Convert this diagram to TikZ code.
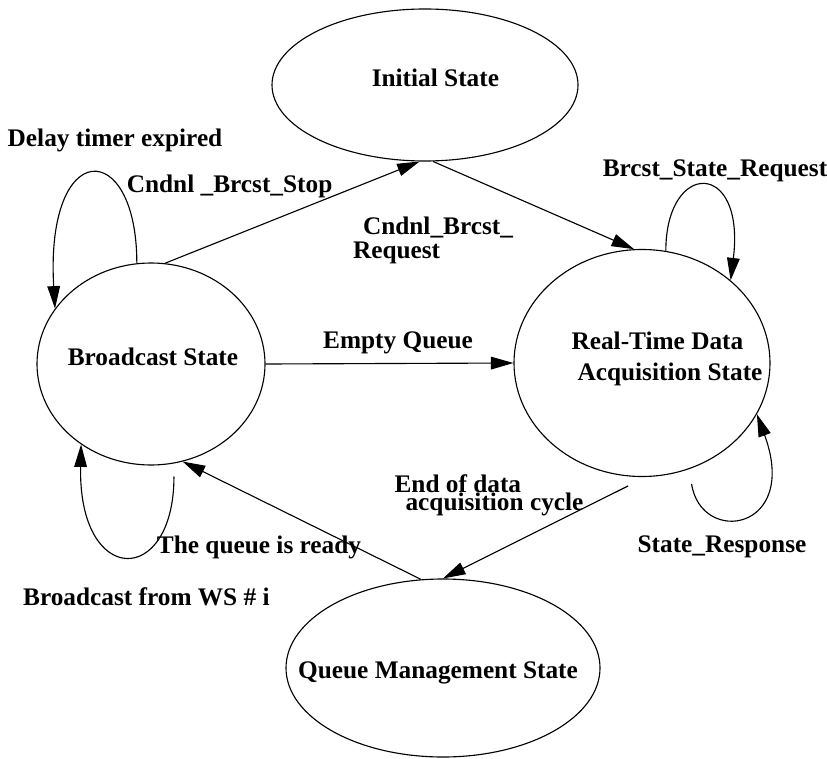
\documentclass[tikz,border=0pt]{standalone}
\usepackage{fontspec}
\setmainfont{Liberation Serif}
\usepackage{tikz}
\usetikzlibrary{arrows.meta}
\usetikzlibrary{shapes.geometric}

\begin{document}
\begin{tikzpicture}[>={Triangle[length=16pt,width=9pt]},line width=0.8pt,
	state/.style={ellipse,draw,inner sep=0pt},
	every node/.style={font=\fontsize{18}{22}\selectfont\bfseries},
	every label/.style={align=left}]
	\useasboundingbox (0,0) rectangle (20.675,18.95);
	% states
	\node[state,minimum width=7.65cm,minimum height=3.8cm,
		label={[shift={(0.26,0.175)}]center:Initial State}](init)at(10.625,16.825){};
	\node[state,minimum width=5.7cm,minimum height=5.05cm,
		label={[shift={(0.05,0.175)}]center:Broadcast State}](bc)at(3.775,9.85){};
	\node[state,minimum width=6.4cm,minimum height=5.675cm,
		label={[shift={(0.625,0.1)}]center:{Real-Time Data\\\hspace*{0.15cm}Acquisition State}}](rt)at(16.05,9.875){};
	\node[state,minimum width=7.85cm,minimum height=4.45cm,
		label={[shift={(-0.125,-0.125)}]center:Queue Management State}](q)at(11.075,2.25){};
	% transitions
	\draw[->](bc.82)--(init.266);
	\draw[->](init.276)--(rt.94.5);
	\draw[->](bc.east)--(rt.west);
	\draw[->,shorten <=0.5cm](rt.272)--(q.north);
	\draw[->](q.104.6)--(bc.288);
	\draw[->](bc.98)..controls +(0,3.15) and +(-0.25,4.3)..(bc.150);
	\draw[->](rt.78)..controls +(0,2.275) and +(0.375,3.025)..(rt.43);
	\draw[->,shorten <=0.375cm](rt.294)..controls +(0.3,-1.925) and +(1.075,-2.925)..(rt.336.5);
	\draw[->,shorten <=0.325cm](bc.283)..controls +(0,-3.1) and +(-0.075,-3.575)..(bc.229.4);
	% labels
	\node(delay)at(2.875,15.45){Delay timer expired};
	\node(stop)at(5.74,14.3){Cndnl \_Brcst\_Stop};
	\node[align=left](req)at(10.825,12.95){\hspace*{0.25cm}Cndnl\_Brcst\_\\[-5pt]Request};
	\node(empty)at(9.95,10.375){Empty Queue};
	\node(bsreq)at(17.875,14.675){Brcst\_State\_Request};
	\node[align=left](endcyc)at(12.225,6.575){End of data\\[-9pt]\hspace*{0.275cm}acquisition cycle};
	\node(ready)at(6.475,5.275){The queue is ready};
	\node(stresp)at(18.05,5.275){State\_Response};
	\node(bcws)at(3.66,4.025){Broadcast from WS \# i};
\end{tikzpicture}
\end{document}
